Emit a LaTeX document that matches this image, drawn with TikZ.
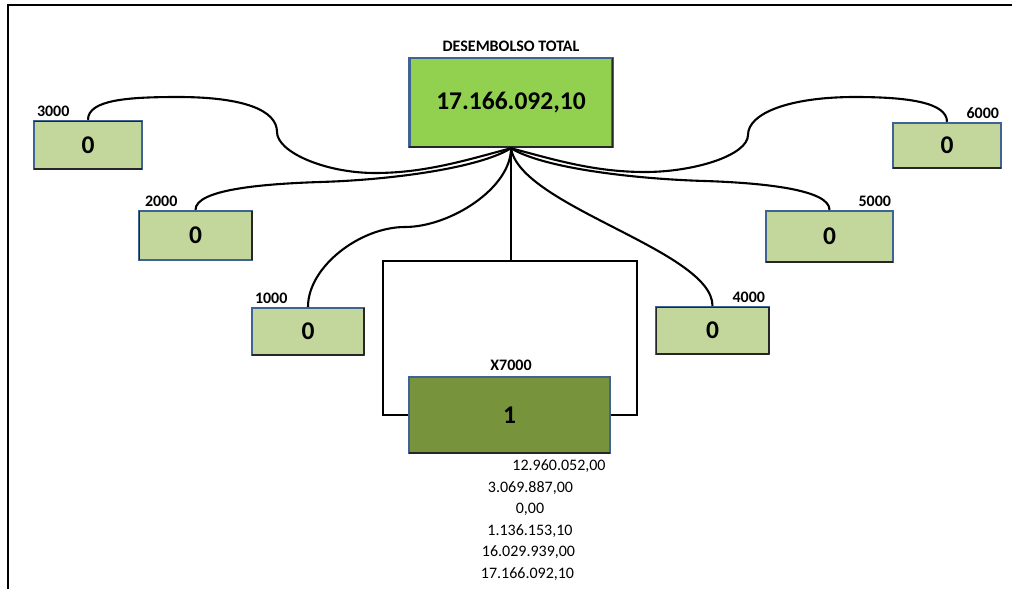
\documentclass[tikz,border=0pt]{standalone}
\usepackage{fontspec}
\setmainfont{Carlito}
\usetikzlibrary{calc}
\definecolor{hubgreen}{HTML}{92D050}
\definecolor{leafgreen}{HTML}{C3D69B}
\definecolor{olivebox}{HTML}{77933C}
\definecolor{edgeblue}{HTML}{3F6393}

\begin{document}
\begin{tikzpicture}[x=1pt,y=1pt,
  box/.style={draw=edgeblue, line width=2.4pt, inner sep=0pt,
    font=\bfseries\fontsize{25.5}{25.5}\selectfont},
  leaf/.style={box, fill=leafgreen},
  tag/.style={inner sep=0pt, font=\bfseries\fontsize{16}{16}\selectfont},
  amount/.style={inner sep=0pt, font=\fontsize{16}{16}\selectfont},
  link/.style={line width=2.1pt, black},
  inkline/.style={line width=1.4pt, black!85, shorten >=1pt, shorten <=1pt}
]
\useasboundingbox (0,0) rectangle (1012,-589);

% page frame (left and top edges)
\draw[line width=2pt] (7.7,-589) -- (7.7,-5) -- (1012,-5);

% main total
\node[box, fill=hubgreen, minimum width=203pt, minimum height=89pt] (total) at (511,-102.5) {17.166.092,10};
\node[tag, anchor=base] (totaltag) at ($(total.north)+(0,5)$) {DESEMBOLSO TOTAL};

% accounts
\node[leaf, minimum width=108pt, minimum height=48pt] (b3000) at (88,-145) {0};
\node[leaf, minimum width=113pt, minimum height=49pt] (b2000) at (195.5,-235.5) {0};
\node[leaf, minimum width=112pt, minimum height=47pt] (b1000) at (308,-331.5) {0};
\node[leaf, minimum width=113pt, minimum height=47pt] (b4000) at (712.5,-330.5) {0};
\node[leaf, minimum width=127pt, minimum height=51pt] (b5000) at (829.5,-236.5) {0};
\node[leaf, minimum width=108pt, minimum height=45pt] (b6000) at (947,-145.5) {0};
\node[box, fill=olivebox, minimum width=201pt, minimum height=76pt] (x7000) at (509.5,-415) {1};

% dark inner strokes along some box edges
\draw[inkline] ([yshift=-1.4pt]b3000.north west) -- ([yshift=-1.4pt]b3000.north east);
\draw[inkline] ([yshift=1.4pt]b3000.south west) -- ([yshift=1.4pt]b3000.south east);
\draw[inkline] ([xshift=1.4pt]b2000.north west) -- ([xshift=1.4pt]b2000.south west);
\draw[inkline] ([xshift=-1.4pt]b2000.north east) -- ([xshift=-1.4pt]b2000.south east);
\draw[inkline] ([yshift=1.4pt]b1000.south west) -- ([yshift=1.4pt]b1000.south east);
\draw[inkline] ([xshift=-1.4pt]b1000.north east) -- ([xshift=-1.4pt]b1000.south east);
\draw[inkline] ([yshift=-1.4pt]b4000.north west) -- ([yshift=-1.4pt]b4000.north east);
\draw[inkline] ([yshift=1.4pt]b4000.south west) -- ([yshift=1.4pt]b4000.south east);
\draw[inkline] ([xshift=1.4pt]b4000.north west) -- ([xshift=1.4pt]b4000.south west);
\draw[inkline] ([xshift=-1.4pt]b4000.north east) -- ([xshift=-1.4pt]b4000.south east);
\draw[inkline] ([yshift=1.4pt]b5000.south west) -- ([yshift=1.4pt]b5000.south east);
\draw[inkline] ([yshift=1.4pt]b6000.south west) -- ([yshift=1.4pt]b6000.south east);
\draw[inkline] ([yshift=1.4pt]total.south west) -- ([yshift=1.4pt]total.south east);
\draw[inkline] ([xshift=-1.4pt]total.north east) -- ([xshift=-1.4pt]total.south east);
\draw[inkline] ([yshift=1.4pt]x7000.south west) -- ([yshift=1.4pt]x7000.south east);

\node[tag, anchor=base west] (t3000) at ($(b3000.north west)+(4,3)$) {3000};
\node[tag, anchor=base west] (t2000) at ($(b2000.north west)+(7,3)$) {2000};
\node[tag, anchor=base west] (t1000) at ($(b1000.north west)+(4,3)$) {1000};
\node[tag, anchor=base east] (t4000) at ($(b4000.north east)+(-5,3)$) {4000};
\node[tag, anchor=base east] (t5000) at ($(b5000.north east)+(-3,3)$) {5000};
\node[tag, anchor=base east] (t6000) at ($(b6000.north east)+(-3,3)$) {6000};
\node[tag, anchor=base] (t7000) at ($(x7000.north)+(1.5,5)$) {X7000};

% amounts under the X7000 account
\node[amount, anchor=base] (a1) at (559,-470) {12.960.052,00};
\node[amount, anchor=base] (a2) at (530.5,-492) {3.069.887,00};
\node[amount, anchor=base] (a3) at (530,-513) {0,00};
\node[amount, anchor=base] (a4) at (530,-535) {1.136.153,10};
\node[amount, anchor=base] (a5) at (528.5,-556) {16.029.939,00};
\node[amount, anchor=base] (a6) at (527.5,-578) {17.166.092,10};

% waypoints of the winding links
\coordinate (w3a) at (178,-97);
\coordinate (w3b) at (277,-132);
\coordinate (w3c) at (375,-173);
\coordinate (w2a) at (320,-182);
\coordinate (w6a) at (855,-97);
\coordinate (w6b) at (748,-135);
\coordinate (w6c) at (645,-172);
\coordinate (w5a) at (705,-181);
\coordinate (w1a) at (405,-227);
\coordinate (lb) at (383,-261);
\coordinate (rb) at (637,-261);

% links to the total
\draw[link] (b3000.north) .. controls +(0,20) and +(-50,0) .. (w3a)
  .. controls +(65,0) and +(0,22) .. (w3b)
  .. controls +(0,-20) and +(-50,0) .. (w3c)
  .. controls +(50,0) and +(-45,-12) .. (total.south);
\draw[link] (b2000.north) .. controls +(0,20) and +(-60,-2) .. (w2a)
  .. controls +(70,2) and +(-32,-20) .. (total.south);
\draw[link] (b1000.north) .. controls +(0,40) and +(-45,0) .. (w1a)
  .. controls +(45,0) and +(0,-40) .. (total.south);
\draw[link] (b4000.north) .. controls +(0,55) and +(9,-58) .. (total.south);
\draw[link] (b5000.north) .. controls +(0,20) and +(60,-2) .. (w5a)
  .. controls +(-70,2) and +(32,-20) .. (total.south);
\draw[link] (b6000.north) .. controls +(0,20) and +(50,0) .. (w6a)
  .. controls +(-65,0) and +(0,22) .. (w6b)
  .. controls +(0,-20) and +(50,0) .. (w6c)
  .. controls +(-50,0) and +(45,-12) .. (total.south);

% bracket around X7000
\draw[link] (total.south) -- (total.south |- lb);
\draw[link] (x7000.west) -| (lb) -- (rb) |- (x7000.east);
\end{tikzpicture}
\end{document}
